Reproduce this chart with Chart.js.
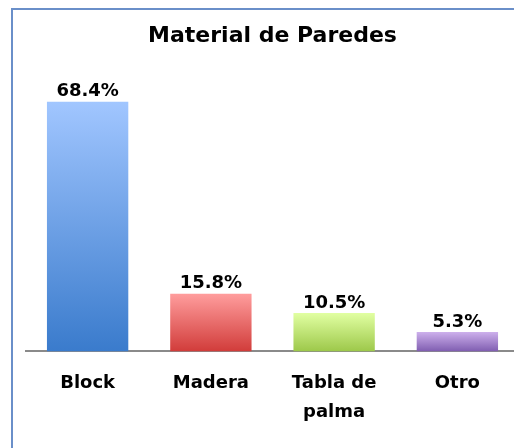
<!DOCTYPE html>
<html>
<head>
<meta charset="utf-8">
<script src="https://cdn.jsdelivr.net/npm/chart.js@4/dist/chart.umd.min.js"></script>
<style>
    html, body { margin: 0; padding: 0; background: #fff; overflow: hidden; }
    #frame {
        position: absolute; left: 11px; top: 8px; width: 700px; height: 700px;
        border: 2px solid #6a8fc9;
    }
    #wrap { position: absolute; left: 0; top: 0; width: 520px; height: 448px; }
</style>
</head>
<body>
<div id="frame"></div>
<div id="wrap"><canvas id="paredesChart"></canvas></div>
<script>
const categories = [['Block'], ['Madera'], ['Tabla de', 'palma'], ['Otro']];
const percentages = [68.4, 15.8, 10.5, 5.3];
const topColors = ['#a1c6ff', '#ff9d9d', '#e1ffa2', '#cdb0ec'];
const bottomColors = ['#3a7bcc', '#d13c3a', '#9dc84a', '#7f5db0'];

// vertical gradient per bar, from its top to the baseline
function barGradient(context, colorsTop, colorsBottom) {
    const chart = context.chart;
    const yScale = chart.scales.y;
    if (!chart.chartArea || !yScale || context.dataIndex === undefined) {
        return colorsBottom[context.dataIndex || 0];
    }
    const top = yScale.getPixelForValue(context.raw);
    const base = yScale.getPixelForValue(0);
    const g = chart.ctx.createLinearGradient(0, top, 0, base);
    g.addColorStop(0, colorsTop[context.dataIndex]);
    g.addColorStop(1, colorsBottom[context.dataIndex]);
    return g;
}

// value labels above each bar
const valueLabels = {
    id: 'valueLabels',
    afterDatasetsDraw(chart) {
        const ctx = chart.ctx;
        const meta = chart.getDatasetMeta(0);
        ctx.save();
        ctx.fillStyle = '#000';
        ctx.textAlign = 'center';
        ctx.textBaseline = 'bottom';
        meta.data.forEach((bar, i) => {
            ctx.font = (i === 0 ? 'bold ' : '600 ') + '18px "DejaVu Sans"';
            ctx.fillText(percentages[i].toFixed(1) + '%', bar.x, bar.y - 1);
        });
        ctx.restore();
    }
};

const ctxParedes = document.getElementById('paredesChart').getContext('2d');

const paredesChart = new Chart(ctxParedes, {
    type: 'bar',
    data: {
        labels: categories,
        datasets: [{
            data: percentages,
            backgroundColor: (c) => barGradient(c, topColors, bottomColors),
            borderWidth: 0,
            barPercentage: 0.66,
            categoryPercentage: 1
        }]
    },
    options: {
        responsive: true,
        maintainAspectRatio: false,
        animation: false,
        layout: {
            padding: { left: 26, right: 1, top: 0, bottom: 3 }
        },
        plugins: {
            legend: { display: false },
            tooltip: { enabled: false },
            title: {
                display: true,
                text: 'Material de Paredes',
                color: '#000',
                font: { family: 'DejaVu Sans', size: 22, weight: 'bold' },
                padding: { top: 23, bottom: 10 }
            }
        },
        scales: {
            x: {
                grid: { display: false, drawTicks: false },
                border: { display: true, color: '#8a8a8a', width: 2 },
                ticks: {
                    color: '#000',
                    padding: 18,
                    font: { family: 'DejaVu Sans', size: 18, weight: '600', lineHeight: 1.6 }
                }
            },
            y: {
                display: false,
                min: 0,
                max: 80
            }
        }
    },
    plugins: [valueLabels]
});
</script>
</body>
</html>
